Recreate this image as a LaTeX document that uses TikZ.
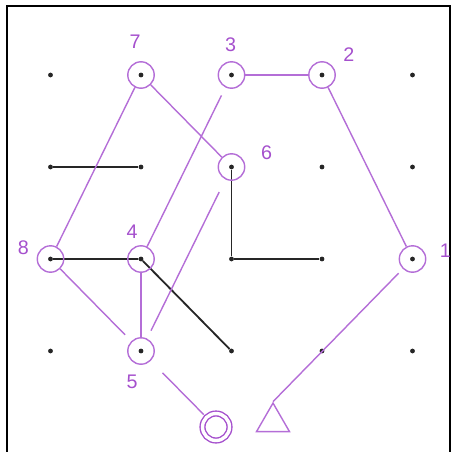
\documentclass[tikz,border=0pt]{standalone}
\usepackage{fontspec}
\setmainfont{Liberation Sans}
\usepackage{tikz}
\usetikzlibrary{positioning, shapes.geometric}
\definecolor{pegpurple}{RGB}{165,80,205}
\definecolor{trailpurple}{RGB}{180,110,215}

\begin{document}
\begin{tikzpicture}[
    dot/.style={circle, fill=black!85, inner sep=0pt, minimum size=3.4pt},
    ring/.style={circle, draw=trailpurple, line width=1pt, inner sep=0pt, minimum size=0.66cm},
    trail/.style={draw=trailpurple, line width=1pt},
    wire/.style={black!85, line width=1.3pt},
    num/.style={text=pegpurple, font=\fontsize{14}{16}\selectfont},
  ]
    \useasboundingbox (0,0) rectangle (11.325,11.275);
    \draw[line width=0.05cm] (0.175,-0.2) -- (0.175,11.125) -- (11.25,11.125) -- (11.25,-0.2);

    \foreach \i in {0,...,4}
      \foreach \j in {0,...,3}
        \node[dot] (p\i\j) at ({1.2625+2.2625*\i},{2.5+2.3*\j}) {};

    \draw[wire] (p02) -- (p12);
    \draw[wire] (p22) -- (p21) -- (p31);
    \draw[wire] (p01) -- (p11) -- (p20);

    \node[ring] (n1) at (p41) {};
    \node[ring] (n2) at (p33) {};
    \node[ring] (n3) at (p23) {};
    \node[ring] (n4) at (p11) {};
    \node[ring] (n5) at (p10) {};
    \node[ring] (n6) at (p22) {};
    \node[ring] (n7) at (p13) {};
    \node[ring] (n8) at (p01) {};

    \node[num] (t1) at ([shift={(0.82,0.2)}]n1) {1};
    \node[num] (t2) at ([shift={(0.67,0.5)}]n2) {2};
    \node[num] (t3) at ([shift={(-0.02,0.76)}]n3) {3};
    \node[num] (t4) at ([shift={(-0.22,0.68)}]n4) {4};
    \node[num] (t5) at ([shift={(-0.22,-0.78)}]n5) {5};
    \node[num] (t6) at ([shift={(0.88,0.35)}]n6) {6};
    \node[num] (t7) at ([shift={(-0.15,0.83)}]n7) {7};
    \node[num] (t8) at ([shift={(-0.68,0.28)}]n8) {8};

    \node[ring, draw=pegpurple, double, double distance=2.4pt, minimum size=0.675cm] (start) at (5.4,0.6) {};
    \node[draw=trailpurple, line width=1pt, regular polygon, regular polygon sides=3,
      inner sep=0pt, minimum size=0.95cm] (finish) at (6.825,0.724) {};

    \draw[trail] (n3) -- (n2);
    \draw[trail] (n2) -- (n1);
    \draw[trail] (n7) -- (n6);
    \draw[trail] (n7) -- (n8);
    \draw[trail, shorten <=0.22cm] (n3) -- (n4);
    \draw[trail, shorten <=0.35cm, shorten >=0.22cm] (n6) -- (n5);
    \draw[trail, shorten >=0.22cm] (n8) -- (n5);
    \draw[trail] (n4) -- (n5);
    \draw[trail, shorten <=0.15cm] (n1) -- (finish.corner 1);
    \draw[trail, shorten <=0.42cm, shorten >=0.08cm] (n5) -- (start);
  \end{tikzpicture}
\end{document}
